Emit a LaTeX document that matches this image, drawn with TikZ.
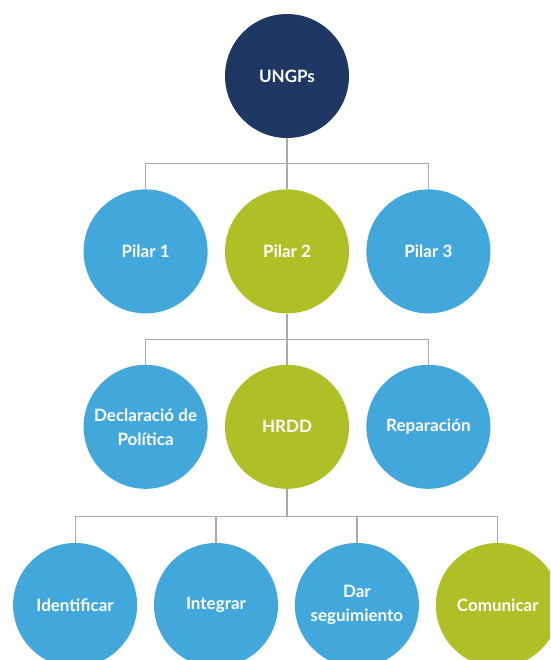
\documentclass[tikz,border=0pt]{standalone}
\usepackage{fontspec}
\setmainfont{Lato}
\usetikzlibrary{positioning}
\definecolor{ungpsnavy}{RGB}{31,56,99}
\definecolor{pilarblue}{RGB}{66,168,220}
\definecolor{pilargreen}{RGB}{175,192,38}
\definecolor{linkgray}{RGB}{170,170,170}
\begin{document}
\begin{tikzpicture}[x=1pt,y=-1pt,
 bubble/.style={circle,minimum size=124pt,inner sep=0pt,align=center,text=white,
  font=\bfseries\fontsize{17}{24}\selectfont},
 link/.style={draw=linkgray,line width=1.2pt}]
\useasboundingbox (0,0) rectangle (550,660);
\clip (0,0) rectangle (550,660);
\node[bubble,fill=ungpsnavy] (ungps) at (287,76) {UNGPs};
\node[bubble,fill=pilargreen,below=51pt of ungps] (pilar2) {Pilar 2};
\node[bubble,fill=pilarblue,left=17pt of pilar2] (pilar1) {Pilar 1};
\node[bubble,fill=pilarblue,right=17pt of pilar2] (pilar3) {Pilar 3};
\node[bubble,fill=pilargreen,below=51pt of pilar2] (hrdd) {HRDD};
\node[bubble,fill=pilarblue,left=17pt of hrdd] (politica) {Declaració de\\Política};
\node[bubble,fill=pilarblue,right=17pt of hrdd] (reparacion) {Reparación};
\node[bubble,fill=pilarblue] (integrar) at (216,605) {Integrar};
\node[bubble,fill=pilarblue,left=16.5pt of integrar] (identificar) {Identificar};
\node[bubble,fill=pilarblue,right=16.5pt of integrar] (seguimiento) {Dar\\seguimiento};
\node[bubble,fill=pilargreen,right=16.5pt of seguimiento] (comunicar) {Comunicar};
% connectors
\draw[link] (ungps.south) -- ++(0,25.5) coordinate (bus1);
\draw[link] (bus1) -| (pilar1.north);
\draw[link] (bus1) -- (pilar2.north);
\draw[link] (bus1) -| (pilar3.north);
\draw[link] (pilar2.south) -- ++(0,25.5) coordinate (bus2);
\draw[link] (bus2) -| (politica.north);
\draw[link] (bus2) -- (hrdd.north);
\draw[link] (bus2) -| (reparacion.north);
\draw[link] (hrdd.south) -- ++(0,27.5) coordinate (bus3);
\draw[link] (bus3) -| (identificar.north);
\draw[link] (bus3) -| (integrar.north);
\draw[link] (bus3) -| (seguimiento.north);
\draw[link] (bus3) -| (comunicar.north);
\end{tikzpicture}
\end{document}
